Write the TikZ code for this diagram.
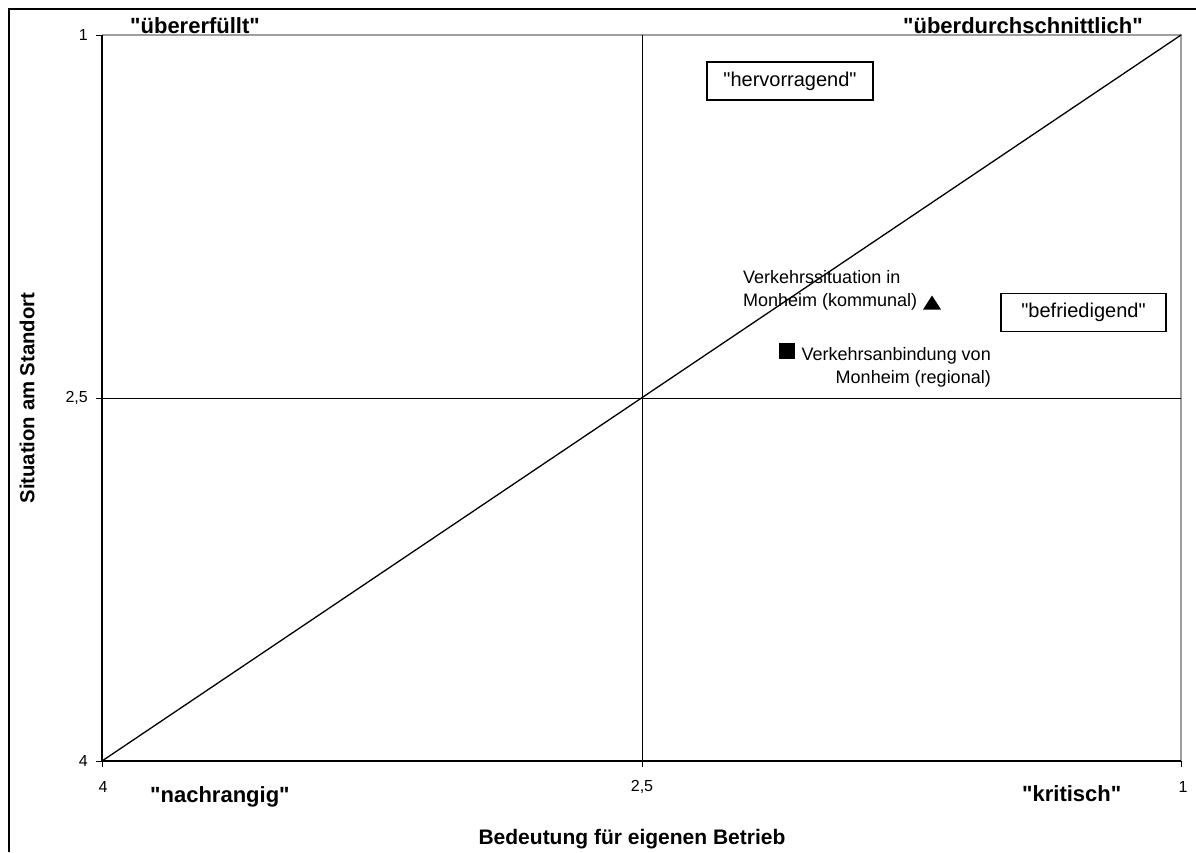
\documentclass[tikz,border=0pt]{standalone}
\usepackage{fontspec}
\setmainfont{Liberation Sans}[Ligatures=TeXOff]
\begin{document}
\begin{tikzpicture}[x=1pt,y=-1pt,
  bold/.style={font=\fontsize{22}{26}\selectfont\bfseries, inner sep=0pt},
  ticklbl/.style={font=\fontsize{16}{19}\selectfont, inner sep=0pt},
  ptlbl/.style={font=\fontsize{18}{22}\selectfont, inner sep=0pt},
  qbox/.style={draw, line width=1.5pt, minimum height=38pt, inner sep=0pt, font=\fontsize{20}{24}\selectfont},
  gridline/.style={line width=1pt},
  axisline/.style={line width=1.3pt},
  tickmark/.style={line width=1pt}]
\useasboundingbox (0,0) rectangle (1196,852);
\fill[white] (0,0) rectangle (1196,852);
% outer frame (only left and top visible)
\coordinate (FL) at (9,852);
\coordinate (FC) at (9,9);
\coordinate (FR) at (1196,9);
\draw[line width=1.8pt] (FL) -- (FC) -- (FR);
% plot area
\coordinate (BL) at (102,761);
\coordinate (TL) at (102,35);
\coordinate (TR) at (1181,35);
\coordinate (BR) at (1181,761);
\coordinate (XM) at (642,761);
\coordinate (XT) at (642,35);
\coordinate (YL) at (102,398);
\coordinate (YR) at (1181,398);
\draw[gray!75, line width=1.4pt] (TL) -- (TR) -- (BR);
\draw[gridline] (XT) -- (XM);
\draw[gridline] (YL) -- (YR);
\draw[line width=1.3pt] (BL) -- (TR);
\draw[axisline] (TL) -- (BL) -- (BR);
% ticks
\foreach \y in {35,398,761} \draw[tickmark] (96,\y) -- (102,\y);
\foreach \x in {102,642,1181} \draw[tickmark] (\x,761) -- (\x,767);
% tick labels
\node[ticklbl, anchor=east] (y1) at (88,35) {1};
\node[ticklbl, anchor=east] (y25) at (88,398) {2,5};
\node[ticklbl, anchor=east] (y4) at (88,761) {4};
\node[ticklbl] (x4) at (103,787) {4};
\node[ticklbl] (x25) at (642,787) {2,5};
\node[ticklbl] (x1) at (1183,787) {1};
% corner labels
\node[bold, anchor=base west] (ue) at (130,33) {"übererfüllt"};
\node[bold, anchor=base east] (ud) at (1143,33) {"überdurchschnittlich"};
\node[bold, anchor=base west] (na) at (150,802) {"nachrangig"};
\node[bold, anchor=base west] (kr) at (1022,801) {"kritisch"};
% axis titles
\node[bold, font=\fontsize{21}{25}\selectfont\bfseries, anchor=base] (xt) at (632,844) {Bedeutung für eigenen Betrieb};
\node[bold, font=\fontsize{20.3}{24}\selectfont\bfseries, rotate=90] (yt) at (27,398) {Situation am Standort};
% boxes
\node[qbox, minimum width=166pt] (hv) at (790,81) {"hervorragend"};
\node[qbox, minimum width=165pt] (bf) at (1083.5,312.5) {"befriedigend"};
% data points
\coordinate (ptri) at (932,303);
\coordinate (psq) at (787,351);
\fill (ptri) ++(-9,6.5) -- ++(18,0) -- ++(-9,-14) -- cycle;
\fill (psq) ++(-8,-8) rectangle ++(16,16);
\node[ptlbl, anchor=base west] (l1a) at (743,283) {Verkehrssituation in};
\node[ptlbl, anchor=base west] (l1b) at (743,306) {Monheim (kommunal)};
\node[ptlbl, anchor=base east] (l2a) at (991,360) {Verkehrsanbindung von};
\node[ptlbl, anchor=base east] (l2b) at (991,383) {Monheim (regional)};
\end{tikzpicture}
\end{document}
